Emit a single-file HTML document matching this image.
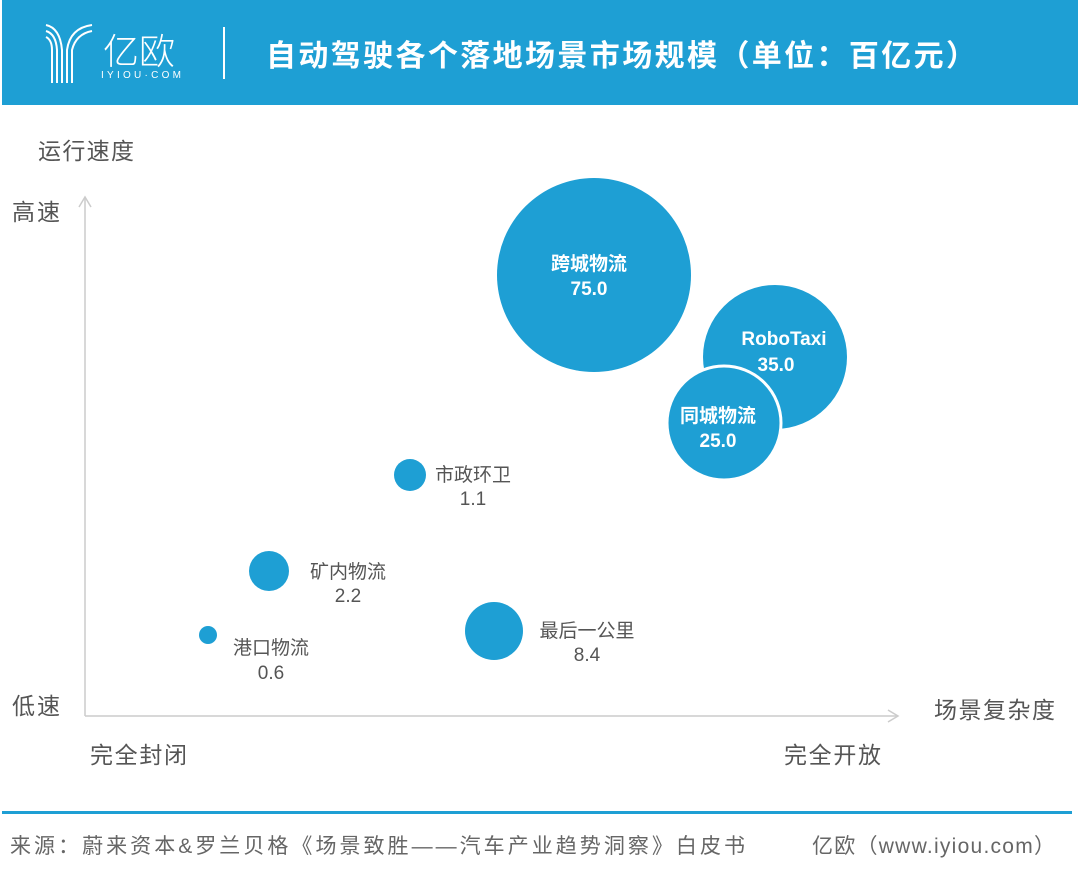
<!DOCTYPE html>
<html><head><meta charset="utf-8"><style>
body{margin:0;background:#fff;}
svg{display:block;font-family:"Liberation Sans","Noto Sans CJK SC",sans-serif;}
</style></head><body>
<svg width="1080" height="881" viewBox="0 0 1080 881">
<rect x="0" y="0" width="1080" height="881" fill="#fff"/>
<rect x="2" y="0" width="1076" height="105" fill="#1e9fd4"/>
<g stroke="#fff" stroke-width="2" fill="none">
<path d="M46 25 Q60 28 62 50 V83"/><path d="M46 31 Q56 34 57 50 V83"/>
<path d="M46 37 Q52 40 52 50 V83"/>
<path d="M92 25 Q70 28 67 50 V83"/><path d="M92 31 Q76 34 72 50 V83"/>
</g>
<text x="103" y="64" font-size="36" fill="#fff" font-weight="300">亿欧</text>
<text x="101" y="78" font-size="10" fill="#fff" textLength="80">IYIOU·COM</text>
<rect x="223" y="27" width="2" height="52" fill="#fff"/>
<text x="266" y="66" font-size="30" fill="#fff" font-weight="bold" textLength="710">自动驾驶各个落地场景市场规模（单位：百亿元）</text>
<g stroke="#ccc" stroke-width="1.5" fill="none">
<path d="M85 716 V197"/><path d="M79 207 L85 197 L91 207"/>
<path d="M85 716 H898"/><path d="M888 710 L898 716 L888 722"/>
</g>
<g font-size="23" fill="#555">
<text x="38" y="159" textLength="96">运行速度</text>
<text x="12" y="220" textLength="48">高速</text>
<text x="12" y="714" textLength="48">低速</text>
<text x="934" y="718" textLength="121">场景复杂度</text>
<text x="90" y="763" textLength="97">完全封闭</text>
<text x="784" y="763" textLength="97">完全开放</text>
</g>
<g fill="#1e9fd4">
<circle cx="594" cy="275" r="97"/>
<circle cx="775" cy="357" r="72"/>
<circle cx="724" cy="423" r="57" stroke="#fff" stroke-width="3"/>
<circle cx="410" cy="475" r="16"/>
<circle cx="269" cy="571" r="20"/>
<circle cx="208" cy="635" r="9"/>
<circle cx="494" cy="631" r="29"/>
</g>
<g fill="#fff" font-size="19" font-weight="bold" text-anchor="middle">
<text x="589" y="270">跨城物流</text><text x="589" y="295">75.0</text>
<text x="784" y="345">RoboTaxi</text><text x="776" y="371">35.0</text>
<text x="718" y="422">同城物流</text><text x="718" y="447">25.0</text>
</g>
<g fill="#555" font-size="19" text-anchor="middle">
<text x="473" y="481">市政环卫</text><text x="473" y="505">1.1</text>
<text x="348" y="578">矿内物流</text><text x="348" y="602">2.2</text>
<text x="271" y="654">港口物流</text><text x="271" y="679">0.6</text>
<text x="587" y="637">最后一公里</text><text x="587" y="661">8.4</text>
</g>
<rect x="2" y="811" width="1070" height="3" fill="#1e9fd4"/>
<text x="10" y="853" font-size="21" fill="#666" textLength="735">来源：蔚来资本&amp;罗兰贝格《场景致胜——汽车产业趋势洞察》白皮书</text>
<text x="812" y="853" font-size="21" fill="#666" textLength="243">亿欧（www.iyiou.com）</text>
</svg>
</body></html>
